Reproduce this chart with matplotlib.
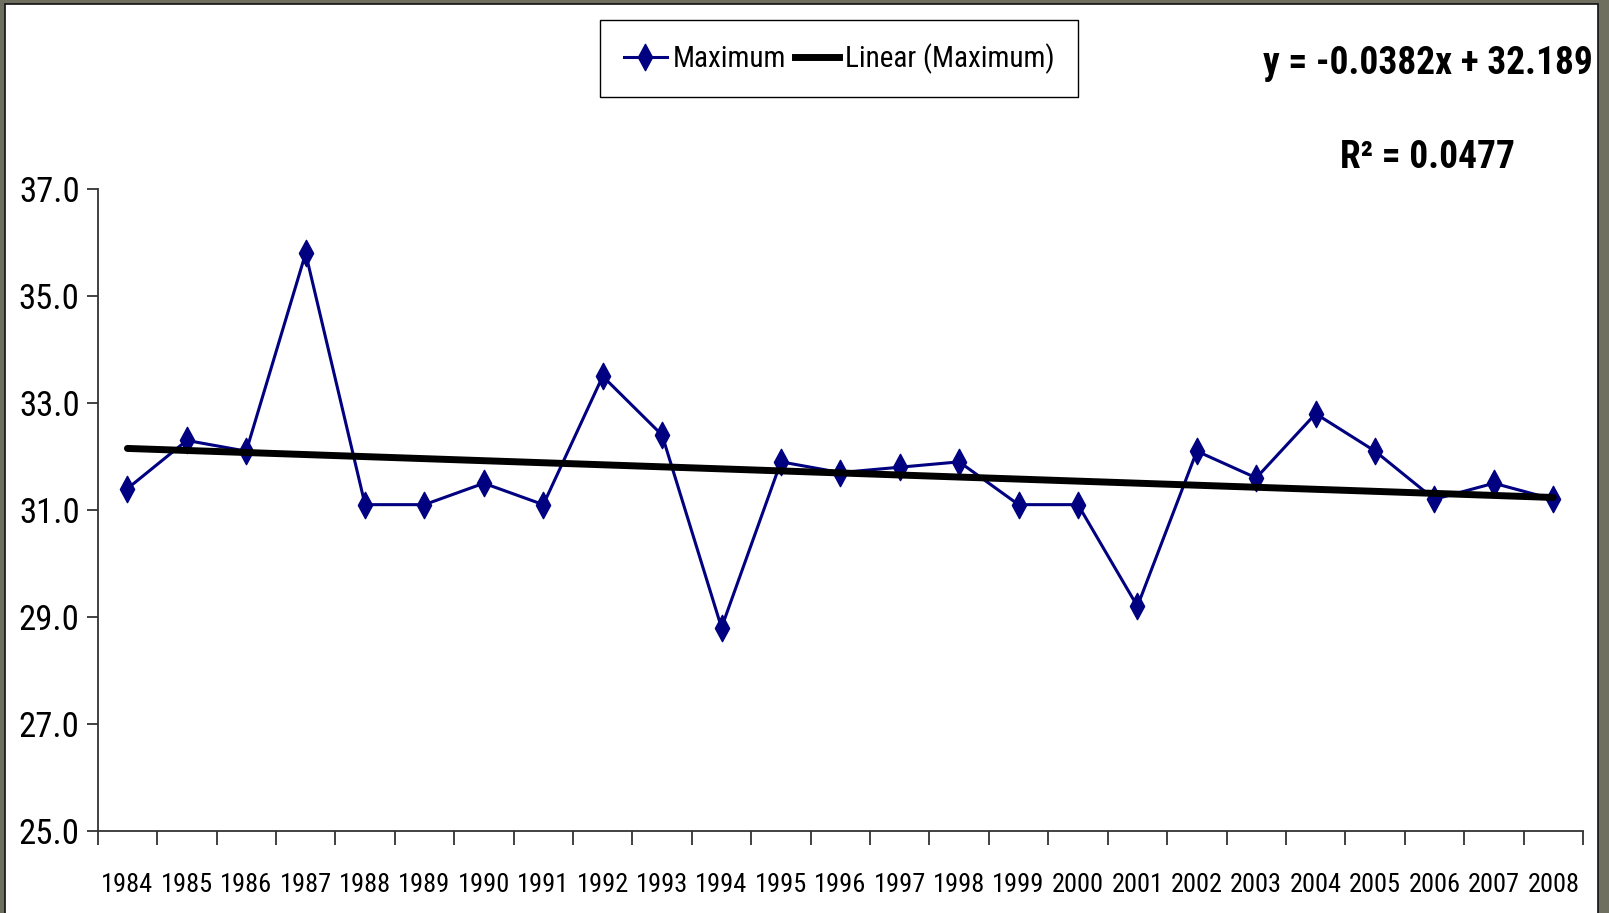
import matplotlib
matplotlib.use("Agg")
import matplotlib.pyplot as plt
from matplotlib import font_manager
from matplotlib.path import Path
from matplotlib.patches import Rectangle
from matplotlib.ticker import FixedLocator, NullFormatter, FixedFormatter
from matplotlib.lines import Line2D
import numpy as np

years = ["1984", "1985", "1986", "1987", "1988", "1989", "1990", "1991", "1992",
         "1993", "1994", "1995", "1996", "1997", "1998", "1999", "2000", "2001",
         "2002", "2003", "2004", "2005", "2006", "2007", "2008"]
maximum = [31.4, 32.3, 32.1, 35.8, 31.1, 31.1, 31.5, 31.1, 33.5, 32.4, 28.8, 31.9,
           31.7, 31.8, 31.9, 31.1, 31.1, 29.2, 32.1, 31.6, 32.8, 32.1, 31.2, 31.5, 31.2]
slope = -0.0382
intercept = 32.189
r_squared = 0.0477
y_ticks = [25.0, 27.0, 29.0, 31.0, 33.0, 35.0, 37.0]

# choose a narrow sans font if one is installed
names = {f.name for f in font_manager.fontManager.ttflist}
narrow = None
for cand in ["Liberation Sans Narrow", "Arial Narrow", "Roboto Condensed",
             "Open Sans Condensed", "Noto Sans Condensed"]:
    if cand in names:
        narrow = cand
        break
base = narrow if narrow else "Liberation Sans"
k = 1.0 if narrow else 0.83
plt.rcParams["font.family"] = [base, "DejaVu Sans"]

W, H = 1609, 913
fig = plt.figure(figsize=(W / 100, H / 100), dpi=100)
fig.patch.set_facecolor("#6f6f60")
fig.patches.append(Rectangle((5 / W, -0.01), (1598 - 5) / W, (H - 4) / H + 0.01,
                             transform=fig.transFigure, facecolor="white",
                             edgecolor="#111111", linewidth=1.2, zorder=-5))

left, right, top, bottom = 97.7, 1583, 189, 831
ax = fig.add_axes([left / W, 1 - bottom / H, (right - left) / W, (bottom - top) / H])
ax.set_facecolor("none")
ax.set_zorder(2)

n = len(years)
xpos = np.arange(n)

diamond = Path([(0, -1), (0.54, 0), (0, 1), (-0.54, 0), (0, -1)],
               [Path.MOVETO, Path.LINETO, Path.LINETO, Path.LINETO, Path.CLOSEPOLY])

ax.plot(xpos, maximum, color="#000080", lw=2.2, marker=diamond, markersize=19,
        markerfacecolor="#000080", markeredgecolor="#000080", zorder=3)

xt = np.array([1, n])
ax.plot(xt - 1, slope * xt + intercept, color="black", lw=5, solid_capstyle="round", zorder=4)

ax.set_xlim(-0.5, n - 0.5)
ax.set_ylim(25, 37)
for s in ["top", "right"]:
    ax.spines[s].set_visible(False)
for s in ["left", "bottom"]:
    ax.spines[s].set_color("#333333")
    ax.spines[s].set_linewidth(1.3)

ax.xaxis.set_major_locator(FixedLocator(np.arange(-0.5, n, 1.0)))
ax.xaxis.set_major_formatter(NullFormatter())
ax.xaxis.set_minor_locator(FixedLocator(xpos))
ax.xaxis.set_minor_formatter(FixedFormatter(years))
ax.tick_params(axis="x", which="major", direction="out", length=10, width=1.3, color="#333333")
ax.tick_params(axis="x", which="minor", length=0, pad=30, labelsize=19 * k)

ax.set_yticks(y_ticks)
ax.set_yticklabels([f"{v:.1f}" for v in y_ticks])
ax.tick_params(axis="y", direction="out", length=8, width=1.3, color="#333333",
               pad=5, labelsize=25 * k)

handles = [Line2D([], [], color="#000080", lw=2.2, marker=diamond, markersize=19,
                  markerfacecolor="#000080"),
           Line2D([], [], color="black", lw=5)]
leg = fig.legend(handles, ["Maximum", "Linear (Maximum)"], ncol=2,
                 loc="center", bbox_to_anchor=((608 + 1070) / 2 / W, 1 - 58.5 / H),
                 fontsize=21 * k, frameon=True, fancybox=False, framealpha=1,
                 edgecolor="black", handlelength=1.5, handletextpad=0.2,
                 columnspacing=0.3, borderpad=0.8, borderaxespad=0)
leg.get_frame().set_linewidth(1.0)

fig.text(1428 / W, 1 - 64 / H, f"y = {slope}x + {intercept}", ha="center", va="center",
         fontsize=27 * k, fontweight="bold")
fig.text(1428 / W, 1 - 157 / H, f"R\u00b2 = {r_squared}", ha="center", va="center",
         fontsize=27 * k, fontweight="bold")

fig.savefig("out.png", dpi=100, facecolor=fig.get_facecolor())
